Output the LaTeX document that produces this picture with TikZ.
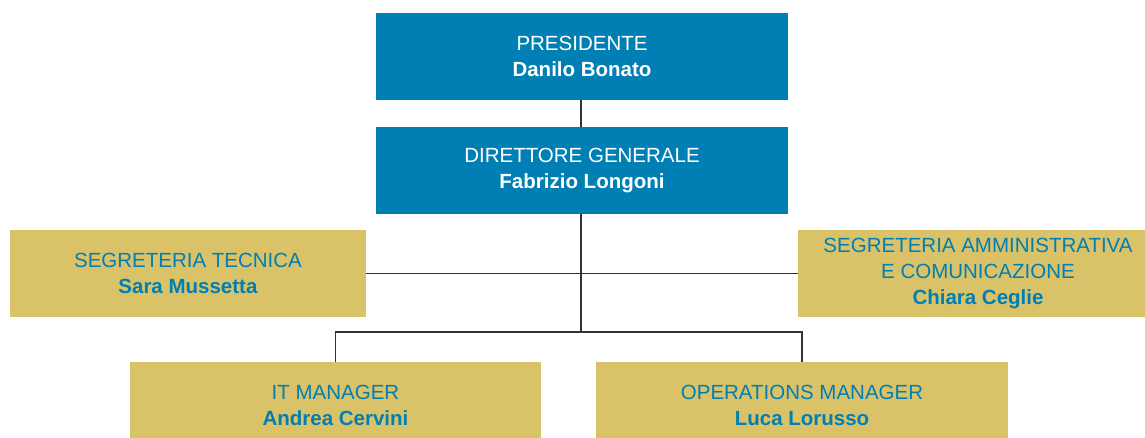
\documentclass[tikz,border=0pt]{standalone}
\usepackage{fontspec}
\setmainfont{Liberation Sans}
\definecolor{chiefblue}{RGB}{0,127,180}
\definecolor{staffgold}{RGB}{218,194,104}
\definecolor{linkgray}{RGB}{50,50,50}
\tikzset{
  chief/.style={fill=chiefblue,text=white,align=center,minimum width=412pt,minimum height=87pt,inner sep=0pt,
    font=\fontsize{20.5}{26}\selectfont},
  staff/.style={fill=staffgold,text=chiefblue,align=center,inner sep=0pt,
    font=\fontsize{20.5}{26}\selectfont},
  link/.style={draw=linkgray,line width=1.1pt}
}
\begin{document}
\begin{tikzpicture}[x=1pt,y=-1pt]
        \useasboundingbox (0,0) rectangle (1145,437);
        \node[chief] (pres) at (582,56.5) {PRESIDENTE\\\textbf{Danilo Bonato}};
        \node[chief] (dir) at (582,170.5) {DIRETTORE GENERALE\\\textbf{Fabrizio Longoni}};
        \node[staff,minimum width=356pt,minimum height=87pt] (segtec) at (188,273.5) {SEGRETERIA TECNICA\\\textbf{Sara Mussetta}};
        \node[staff,minimum width=360pt,minimum height=87pt] (segamm) at (978,273.5) {SEGRETERIA AMMINISTRATIVA\\E COMUNICAZIONE\\\textbf{Chiara Ceglie}};
        \node[staff,minimum width=411pt,minimum height=87pt] (itman) at (335.5,405.5) {IT MANAGER\\\textbf{Andrea Cervini}};
        \node[staff,minimum width=412pt,minimum height=87pt] (opsman) at (802,405.5) {OPERATIONS MANAGER\\\textbf{Luca Lorusso}};
        \coordinate (bus) at (581,332);

        \draw[link] (pres.south -| bus) -- (dir.north -| bus);
        \draw[link] (dir.south -| bus) -- (bus);
        \draw[link] (segtec.east) -- (segamm.west);
        \draw[link] (itman.north) |- (bus) -| (opsman.north);
      \end{tikzpicture}
\end{document}
